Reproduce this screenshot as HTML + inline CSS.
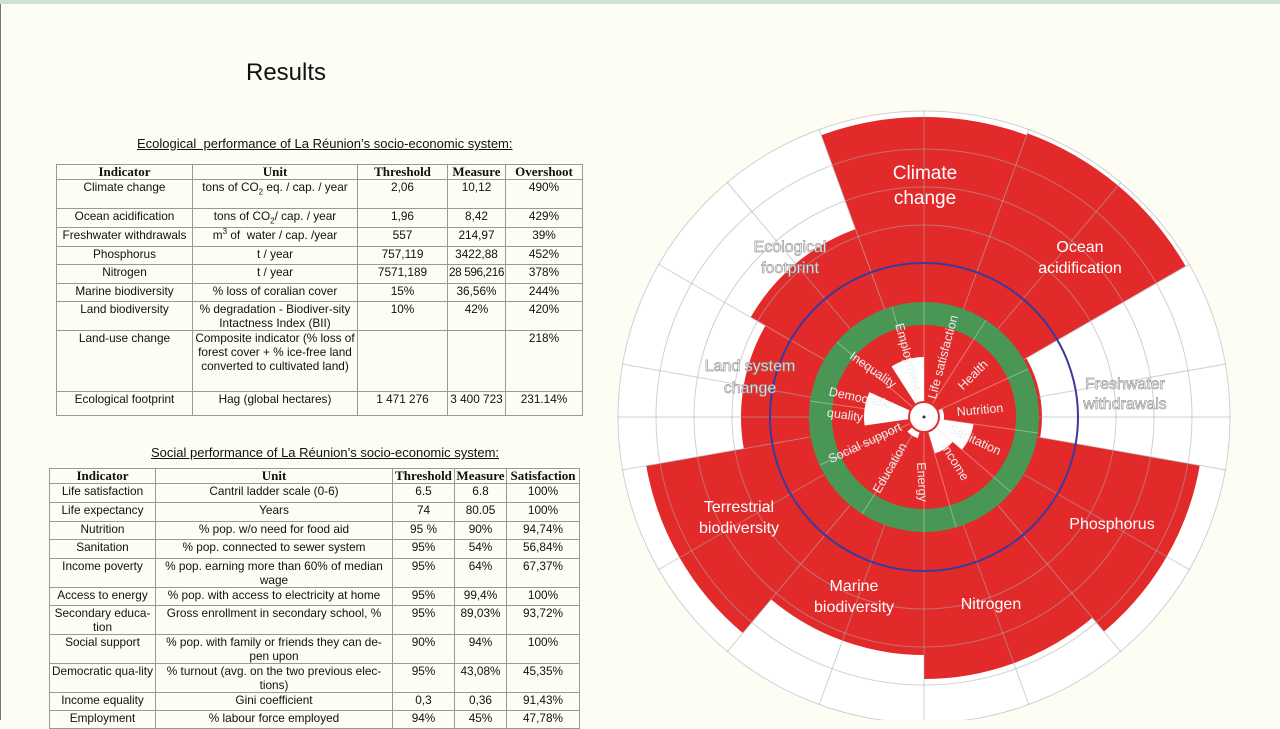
<!DOCTYPE html>
<html><head><meta charset="utf-8"><style>
html,body{margin:0;padding:0}
body{width:1280px;height:720px;overflow:hidden;background:#fdfdf3;position:relative;font-family:"Liberation Sans",sans-serif;color:#111}
#top{position:absolute;left:0;top:0;width:1280px;height:4px;background:#cde3d0}
#lb{position:absolute;left:0;top:4px;width:1px;height:716px;background:#777}
h1{position:absolute;left:246px;top:59px;margin:0;font-weight:normal;font-size:24px;letter-spacing:0}
.ttl{position:absolute;font-size:13px;text-decoration:underline;white-space:nowrap}
table{position:absolute;border-collapse:collapse;table-layout:fixed;font-size:11.8px;background:#fdfdf3}
td,th{border:1px solid #999;padding:0 1px;text-align:center;vertical-align:top;line-height:14px;overflow:visible}
td.n{white-space:nowrap}
th{font-family:"Liberation Serif",serif;font-weight:bold;font-size:13px;line-height:13px}
sub{font-size:8px;line-height:0}
sup{font-size:8px;line-height:0}
svg{position:absolute;left:0;top:0}
</style></head><body>
<div id="top"></div><div id="lb"></div>
<h1>Results</h1>
<div class="ttl" style="left:137px;top:136px">Ecological&nbsp; performance of La Réunion’s socio-economic system:</div>
<table style="left:56px;top:164px;width:526px">
<colgroup><col style="width:136px"><col style="width:165px"><col style="width:90px"><col style="width:58px"><col style="width:77px"></colgroup>
<tr style="height:15px"><th>Indicator</th><th>Unit</th><th>Threshold</th><th>Measure</th><th>Overshoot</th></tr>
<tr style="height:29px"><td>Climate change</td><td>tons of CO<sub>2</sub> eq. / cap. / year</td><td class="n">2,06</td><td class="n">10,12</td><td class="n">490%</td></tr>
<tr style="height:19px"><td>Ocean acidification</td><td>tons of CO<sub>2</sub>/ cap. / year</td><td class="n">1,96</td><td class="n">8,42</td><td class="n">429%</td></tr>
<tr style="height:19px"><td class="n">Freshwater withdrawals</td><td>m<sup>3</sup> of&nbsp; water / cap. /year</td><td class="n">557</td><td class="n">214,97</td><td class="n">39%</td></tr>
<tr style="height:18px"><td>Phosphorus</td><td>t / year</td><td class="n">757,119</td><td class="n">3422,88</td><td class="n">452%</td></tr>
<tr style="height:19px"><td>Nitrogen</td><td>t / year</td><td class="n">7571,189</td><td class="n" style="letter-spacing:-0.4px">28 596,216</td><td class="n">378%</td></tr>
<tr style="height:18px"><td>Marine biodiversity</td><td>% loss of coralian cover</td><td class="n">15%</td><td class="n">36,56%</td><td class="n">244%</td></tr>
<tr style="height:28px"><td>Land biodiversity</td><td>% degradation - Biodiver-sity Intactness Index (BII)</td><td class="n">10%</td><td class="n">42%</td><td class="n">420%</td></tr>
<tr style="height:61px"><td>Land-use change</td><td>Composite indicator (% loss of forest cover + % ice-free land converted to cultivated land)</td><td></td><td></td><td class="n">218%</td></tr>
<tr style="height:24px"><td>Ecological footprint</td><td>Hag (global hectares)</td><td class="n">1 471 276</td><td class="n">3 400 723</td><td class="n">231.14%</td></tr>
</table>
<div class="ttl" style="left:151px;top:445px">Social performance of La Réunion’s socio-economic system:</div>
<table style="left:49px;top:468px;width:530px">
<colgroup><col style="width:106px"><col style="width:237px"><col style="width:62px"><col style="width:52px"><col style="width:73px"></colgroup>
<tr style="height:15px"><th>Indicator</th><th>Unit</th><th>Threshold</th><th>Measure</th><th>Satisfaction</th></tr>
<tr style="height:19px"><td>Life satisfaction</td><td>Cantril ladder scale (0-6)</td><td class="n">6.5</td><td class="n">6.8</td><td class="n">100%</td></tr>
<tr style="height:19px"><td>Life expectancy</td><td>Years</td><td class="n">74</td><td class="n">80.05</td><td class="n">100%</td></tr>
<tr style="height:18px"><td>Nutrition</td><td>% pop. w/o need for food aid</td><td class="n">95 %</td><td class="n">90%</td><td class="n">94,74%</td></tr>
<tr style="height:19px"><td>Sanitation</td><td>% pop. connected to sewer system</td><td class="n">95%</td><td class="n">54%</td><td class="n">56,84%</td></tr>
<tr style="height:28px"><td>Income poverty</td><td>% pop. earning more than 60% of median wage</td><td class="n">95%</td><td class="n">64%</td><td class="n">67,37%</td></tr>
<tr style="height:18px"><td>Access to energy</td><td>% pop. with access to electricity at home</td><td class="n">95%</td><td class="n">99,4%</td><td class="n">100%</td></tr>
<tr style="height:28px"><td>Secondary educa-tion</td><td>Gross enrollment in secondary school, %</td><td class="n">95%</td><td class="n">89,03%</td><td class="n">93,72%</td></tr>
<tr style="height:28px"><td>Social support</td><td>% pop. with family or friends they can de-pen upon</td><td class="n">90%</td><td class="n">94%</td><td class="n">100%</td></tr>
<tr style="height:29px"><td>Democratic qua-lity</td><td>% turnout (avg. on the two previous elec-tions)</td><td class="n">95%</td><td class="n">43,08%</td><td class="n">45,35%</td></tr>
<tr style="height:18px"><td>Income equality</td><td>Gini coefficient</td><td class="n">0,3</td><td class="n">0,36</td><td class="n">91,43%</td></tr>
<tr style="height:18px"><td>Employment</td><td>% labour force employed</td><td class="n">94%</td><td class="n">45%</td><td class="n">47,78%</td></tr>
</table>

<svg width="1280" height="720" viewBox="0 0 1280 720" style="pointer-events:none">
<defs><clipPath id="c"><rect x="600" y="0" width="680" height="720"/></clipPath></defs>
<g clip-path="url(#c)">
<circle cx="924" cy="417" r="307" fill="#fff"/>
<g fill="none" stroke="#e32a2b">
<circle cx="924" cy="417" r="150" stroke-width="300" pathLength="360" stroke-dasharray="40 400" transform="rotate(-110 924 417)"/>
<circle cx="924" cy="417" r="151" stroke-width="302" pathLength="360" stroke-dasharray="40 400" transform="rotate(-70 924 417)"/>
<circle cx="924" cy="417" r="59" stroke-width="118" pathLength="360" stroke-dasharray="40 400" transform="rotate(-30 924 417)"/>
<circle cx="924" cy="417" r="140" stroke-width="280" pathLength="360" stroke-dasharray="40 400" transform="rotate(10 924 417)"/>
<circle cx="924" cy="417" r="131" stroke-width="262" pathLength="360" stroke-dasharray="40 400" transform="rotate(50 924 417)"/>
<circle cx="924" cy="417" r="119" stroke-width="238" pathLength="360" stroke-dasharray="40 400" transform="rotate(90 924 417)"/>
<circle cx="924" cy="417" r="141" stroke-width="282" pathLength="360" stroke-dasharray="40 400" transform="rotate(130 924 417)"/>
<circle cx="924" cy="417" r="91.5" stroke-width="183" pathLength="360" stroke-dasharray="40 400" transform="rotate(170 924 417)"/>
<circle cx="924" cy="417" r="100" stroke-width="200" pathLength="360" stroke-dasharray="40 400" transform="rotate(210 924 417)"/>
</g>
<g stroke="rgba(170,170,170,0.55)" stroke-width="1" fill="none">
<circle cx="924" cy="417" r="192"/><circle cx="924" cy="417" r="230"/><circle cx="924" cy="417" r="268"/><circle cx="924" cy="417" r="306"/>
<line x1="924" y1="110" x2="924" y2="724"/>
<line x1="617" y1="417" x2="1231" y2="417"/>
<line x1="819" y1="129" x2="1029" y2="705"/>
<line x1="1029" y1="129" x2="819" y2="705"/>
<line x1="727" y1="182" x2="1121" y2="652"/>
<line x1="1121" y1="182" x2="727" y2="652"/>
<line x1="658" y1="264" x2="1190" y2="570"/>
<line x1="1190" y1="264" x2="658" y2="570"/>
<line x1="622" y1="364" x2="1226" y2="470"/>
<line x1="1226" y1="364" x2="622" y2="470"/>
</g>
<circle cx="924" cy="417" r="154" fill="none" stroke="#3a3a9e" stroke-width="2"/>
<circle cx="924" cy="417" r="103.5" fill="none" stroke="#4a9655" stroke-width="23"/>
<circle cx="924" cy="417" r="92" fill="#e32a2b"/>
<g fill="none" stroke="#fff">
<circle cx="924" cy="417" r="30" stroke-width="60" pathLength="360" stroke-dasharray="32.7 400" transform="rotate(237.27 924 417)"/>
<circle cx="924" cy="417" r="30" stroke-width="60" pathLength="360" stroke-dasharray="32.7 400" transform="rotate(171.82 924 417)"/>
<circle cx="924" cy="417" r="25" stroke-width="50" pathLength="360" stroke-dasharray="32.7 400" transform="rotate(8.18 924 417)"/>
<circle cx="924" cy="417" r="19" stroke-width="38" pathLength="360" stroke-dasharray="32.7 400" transform="rotate(40.9 924 417)"/>
<circle cx="924" cy="417" r="10" stroke-width="20" pathLength="360" stroke-dasharray="32.7 400" transform="rotate(-24.55 924 417)"/>
<circle cx="924" cy="417" r="11" stroke-width="22" pathLength="360" stroke-dasharray="32.7 400" transform="rotate(106.36 924 417)"/>
</g>
<g stroke="rgba(255,255,255,0.35)" stroke-width="1">
<line x1="924" y1="302" x2="924" y2="532"/>
<line x1="986" y1="320" x2="862" y2="514"/>
<line x1="1028" y1="369" x2="820" y2="465"/>
<line x1="1038" y1="433" x2="810" y2="401"/>
<line x1="1011" y1="492" x2="837" y2="342"/>
<line x1="956" y1="527" x2="892" y2="307"/>
</g>
<circle cx="924" cy="417" r="15" fill="#fff" stroke="#d33" stroke-width="2"/>
<circle cx="924" cy="417" r="1.5" fill="#333"/>
<g font-family="Liberation Sans,sans-serif" text-anchor="middle" fill="#fff" font-size="18">
<text x="925" y="179" font-size="19">Climate</text><text x="925" y="204" font-size="19">change</text>
<text x="1080" y="252" font-size="16">Ocean</text><text x="1080" y="273" font-size="16">acidification</text>
<text x="1112" y="529" font-size="16">Phosphorus</text>
<text x="991" y="609" font-size="16">Nitrogen</text>
<text x="854" y="591" font-size="16">Marine</text><text x="854" y="612" font-size="16">biodiversity</text>
<text x="739" y="512" font-size="16">Terrestrial</text><text x="739" y="533" font-size="16">biodiversity</text>
<g stroke="#999" stroke-width="0.7" font-size="16">
<text x="750" y="371">Land system</text><text x="750" y="393">change</text>
<text x="790" y="252">Ecological</text><text x="790" y="273">footprint</text>
<text x="1125" y="389">Freshwater</text><text x="1125" y="409">withdrawals</text>
</g>
</g>
<g font-family="Liberation Sans,sans-serif" text-anchor="middle" fill="#eee" font-size="12.5">
<text transform="translate(908,357) rotate(75)" dy="4">Employment</text>
<text transform="translate(943,357) rotate(-75)" dy="4">Life satisfaction</text>
<text transform="translate(973,375) rotate(-45)" dy="4">Health</text>
<text transform="translate(980,410) rotate(-5)" dy="4">Nutrition</text>
<text transform="translate(975,440) rotate(25)" dy="4">Sanitation</text>
<text transform="translate(955,462) rotate(58)" dy="4">Income</text>
<text transform="translate(922,482) rotate(87)" dy="4">Energy</text>
<text transform="translate(890,468) rotate(-60)" dy="4">Education</text>
<text transform="translate(865,443) rotate(-25)" dy="4">Social support</text>
<text transform="translate(860,398) rotate(12)" dy="4">Democratic</text>
<text transform="translate(845,415) rotate(8)" dy="4">quality</text>
<text transform="translate(873,370) rotate(35)" dy="4">Inequality</text>
</g>
</g>
</svg>
</body></html>
